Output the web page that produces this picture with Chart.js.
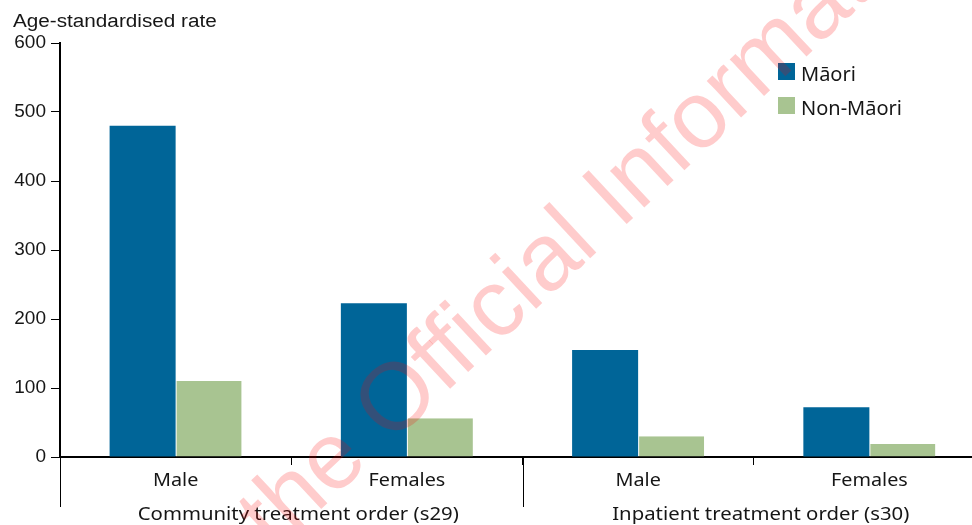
<!DOCTYPE html>
<html>
<head>
<meta charset="utf-8">
<script src="https://cdn.jsdelivr.net/npm/chart.js@4"></script>
<style>
  html, body { margin: 0; padding: 0; background: #fff; overflow: hidden; }
  #wrap { position: relative; width: 985px; height: 525px; }
</style>
</head>
<body>
<div id="wrap"><canvas id="rateChart"></canvas></div>
<script>
// DATA
const categories = ["Male", "Females", "Male", "Females"];
const groups = ["Community treatment order (s29)", "Inpatient treatment order (s30)"];
const seriesNames = ["Māori", "Non-Māori"];
const maoriRates = [480, 223, 155, 72];
const nonMaoriRates = [110, 56, 30, 19];
const yTicks = [0, 100, 200, 300, 400, 500, 600];
const yTitle = "Age-standardised rate";
const watermark = ["Released under ", "the Official Information Act"];

const BLUE = "#006598";
const GREEN = "#a8c491";
const INK = "#161616";

// draws text stretched horizontally, the source fonts are wide
function wideText(ctx, str, x, y, align, font, sx) {
  ctx.save();
  ctx.font = font;
  ctx.fillStyle = INK;
  ctx.textAlign = "left";
  ctx.textBaseline = "alphabetic";
  const w = ctx.measureText(str).width * sx;
  const left = align === "center" ? x - w / 2 : align === "right" ? x - w : x;
  ctx.translate(left, y);
  ctx.scale(sx, 1);
  ctx.fillText(str, 0, 0);
  ctx.restore();
}

//labels, group separators, legend and the watermark
const overlay = {
  id: "overlay",
  afterDraw(chart) {
    const ctx = chart.ctx;
    const xs = chart.scales.x;
    const catW = xs.width / categories.length;

    wideText(ctx, yTitle, 13, 27, "left", '18px "Liberation Sans"', 1.15);

    categories.forEach((c, i) => {
      wideText(ctx, c, xs.getPixelForValue(i), 486, "center", '18px "Noto Sans"', 1.1);
    });

    groups.forEach((g, i) => {
      const cx = (xs.getPixelForValue(2 * i) + xs.getPixelForValue(2 * i + 1)) / 2 + 7;
      wideText(ctx, g, cx, 520, "center", '18px "Noto Sans"', 1.13);
      const lx = Math.round(xs.getPixelForValue(2 * i) - catW / 2) + 0.5;
      ctx.save();
      ctx.strokeStyle = "#000";
      ctx.lineWidth = 1;
      ctx.beginPath();
      ctx.moveTo(lx, xs.top);
      ctx.lineTo(lx, 507);
      ctx.stroke();
      ctx.restore();
    });

    // legend
    chart.data.datasets.forEach((ds, i) => {
      const top = 63 + i * 34;
      ctx.save();
      ctx.fillStyle = ds.backgroundColor;
      ctx.fillRect(778, top, 17, 17);
      ctx.fillStyle = INK;
      ctx.font = '20px "Noto Sans"';
      ctx.textBaseline = "alphabetic";
      ctx.fillText(ds.label, 801, top + 18);
      ctx.restore();
    });

    // watermark
    ctx.save();
    ctx.translate(274, 553);
    ctx.rotate(-43 * Math.PI / 180);
    ctx.font = '95px "Liberation Sans"';
    ctx.fillStyle = "rgba(255, 0, 0, 0.2)";
    ctx.fillText(watermark[0], -ctx.measureText(watermark[0]).width, 0);
    ctx.fillText(watermark[1], 0, 0);
    ctx.restore();
  },
};

const ctx = document.getElementById("rateChart").getContext("2d");

const rateChart = new Chart(ctx, {
  type: "bar",
  data: {
    labels: categories,
    datasets: [
      { label: seriesNames[0], data: maoriRates, backgroundColor: BLUE, borderWidth: 0 },
      {
        label: seriesNames[1],
        data: nonMaoriRates,
        backgroundColor: GREEN,
        borderColor: "#fff",
        borderWidth: { left: 1, top: 0, right: 0, bottom: 0 },
        borderSkipped: false,
      },
    ],
  },
  options: {
    responsive: true,
    maintainAspectRatio: false,
    animation: false,
    layout: { padding: { top: 43, left: 0, right: 0, bottom: 0 } },
    datasets: { bar: { categoryPercentage: 0.571, barPercentage: 1 } },
    plugins: { legend: { display: false }, tooltip: { enabled: false } },
    scales: {
      x: {
        offset: true,
        grid: { display: true, offset: true, drawOnChartArea: false, drawTicks: true, tickLength: 8, color: "#000", lineWidth: 1 },
        border: { display: true, color: "#000", width: 2 },
        ticks: { display: false },
        afterFit: (s) => { s.height = 68; },
      },
      y: {
        min: 0,
        max: 600,
        grid: { drawOnChartArea: false, drawTicks: true, tickLength: 9, color: "#000", lineWidth: 1 },
        border: { display: true, color: "#000", width: 2 },
        ticks: { font: { family: "Liberation Sans", size: 19 }, color: INK, padding: 5 },
        afterBuildTicks: (s) => { s.ticks = yTicks.map((v) => ({ value: v })); },
        afterFit: (s) => { s.width = 60; },
      },
    },
  },
  plugins: [overlay],
});
</script>
</body>
</html>
